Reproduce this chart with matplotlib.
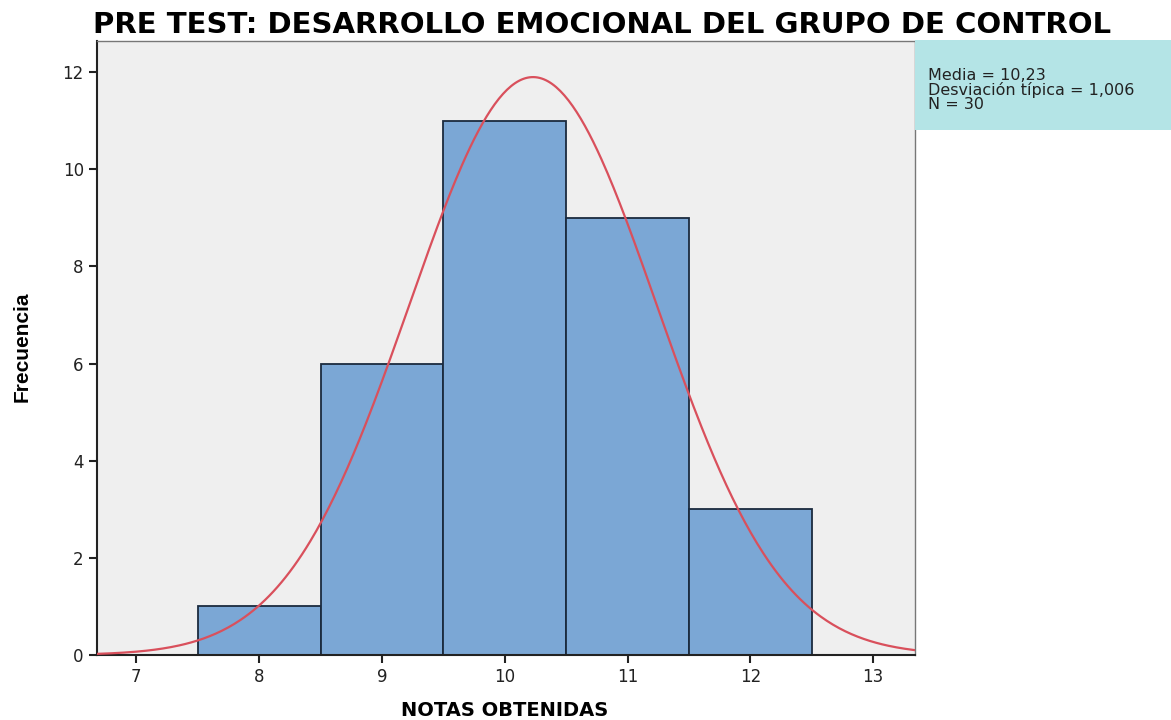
import numpy as np
import matplotlib
matplotlib.use("Agg")
import matplotlib.pyplot as plt

# Data
notas = [8, 9, 10, 11, 12]
frecuencias = [1, 6, 11, 9, 3]
media = 10.23
desviacion = 1.006
n_total = 30
xticks = [7, 8, 9, 10, 11, 12, 13]
yticks = [0, 2, 4, 6, 8, 10, 12]
leyenda = ['Media = 10,23', 'Desviación típica = 1,006', 'N = 30']

plt.rcParams['font.family'] = ['DejaVu Sans']

W, H = 1171, 720
fig = plt.figure(figsize=(W / 100, H / 100), dpi=100)
fig.patch.set_facecolor('white')
ax = fig.add_axes([97 / W, 1 - 655 / H, (915 - 97) / W, (655 - 41) / H])
ax.set_facecolor('#efefef')

ax.bar(notas, frecuencias, width=1.0, color='#7ba7d5', edgecolor='#1b2a3e',
       linewidth=1.3, zorder=2)

x = np.linspace(6.68, 13.34, 400)
pdf = n_total * 1.0 / (desviacion * np.sqrt(2 * np.pi)) * np.exp(-0.5 * ((x - media) / desviacion) ** 2)
ax.plot(x, pdf, color='#d9505c', linewidth=1.6, zorder=3)

ax.set_xlim(6.68, 13.34)
ax.set_ylim(0, 12.64)
ax.set_xticks(xticks)
ax.set_yticks(yticks)
ax.tick_params(axis='both', direction='out', length=6, width=1.5, colors='#222222',
               labelsize=12, labelcolor='#222222')
for s in ['left', 'bottom']:
    ax.spines[s].set_linewidth(1.5)
    ax.spines[s].set_color('#222222')
for s in ['top', 'right']:
    ax.spines[s].set_linewidth(1.0)
    ax.spines[s].set_color('#777777')

fig.text(22 / W, 1 - 347 / H, 'Frecuencia', fontsize=15, fontweight='bold',
         rotation=90, ha='center', va='center',
         family=['Liberation Sans', 'DejaVu Sans'])
fig.text(505 / W, 1 - 711 / H, 'NOTAS OBTENIDAS', fontsize=14, fontweight='bold',
         ha='center', va='center')
fig.text(602 / W, 1 - 25 / H, 'PRE TEST: DESARROLLO EMOCIONAL DEL GRUPO DE CONTROL',
         fontsize=21, fontweight='bold', ha='center', va='center')

# Legend box
fig.patches.append(plt.Rectangle((915 / W, 1 - 130 / H), (W - 915) / W, 90 / H,
                                 transform=fig.transFigure, facecolor='#b4e4e6',
                                 edgecolor='none', zorder=0))
fig.text(928 / W, 1 - 109 / H, '\n'.join(leyenda), fontsize=11.5,
         va='baseline', ha='left', color='#222222', linespacing=0.9)

fig.savefig('out.png', dpi=100, facecolor='white')
